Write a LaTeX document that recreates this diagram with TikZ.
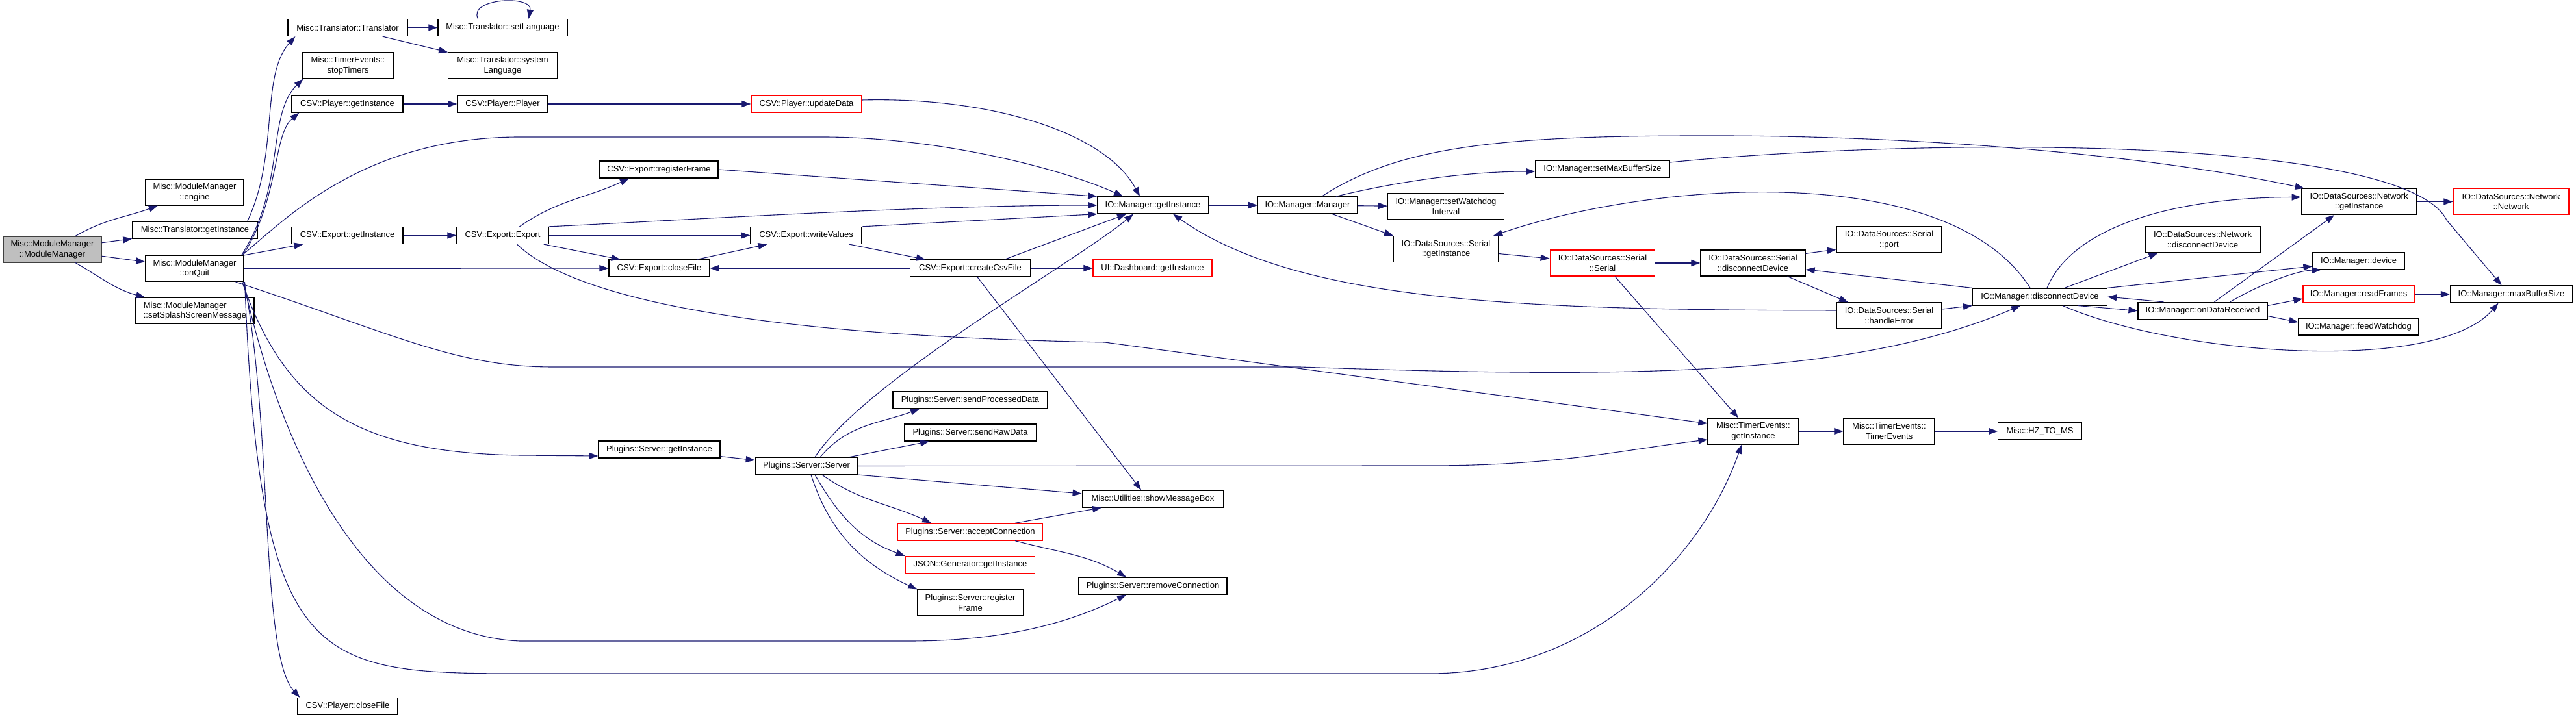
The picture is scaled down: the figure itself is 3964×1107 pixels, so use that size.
\documentclass[tikz,border=0pt]{standalone}
\usepackage{fontspec}
\setmainfont{Liberation Sans}
\usetikzlibrary{arrows.meta}
\definecolor{edgeblue}{HTML}{191970}

\begin{document}
\begin{tikzpicture}[
    x=1pt, y=1pt,
    fnbox/.style={rectangle, draw=black, line width=1.2pt, inner sep=0pt, minimum width=#1, minimum height=26pt, align=center, font=\fontsize{13}{15.5}\selectfont},
    tall/.style={minimum height=40pt},
    trunc/.style={draw=red},
    arrow/.style={-{Triangle[length=14pt, width=10pt]}, draw=edgeblue, line width=1.1pt}
]
\useasboundingbox (0,0) rectangle (3964,1107);

% callers on the left
\node (mm) [fnbox=151pt, tall, fill=black!25, draw=black!75] at (80.5,723) {Misc::ModuleManager\\::ModuleManager};
\node (engine) [fnbox=151pt, tall] at (299.5,811) {Misc::ModuleManager\\::engine};
\node (tgi) [fnbox=192pt] at (300,752.5) {Misc::Translator::getInstance};
\node (oq) [fnbox=151pt, tall] at (299.5,693.5) {Misc::ModuleManager\\::onQuit};
\node (splash) [fnbox=182pt, tall, align=left] at (300,628.5) {Misc::ModuleManager\\::setSplashScreenMessage};

\node (transl) [fnbox=184pt] at (535,1064.5) {Misc::Translator::Translator};
\node (stopTimers) [fnbox=141pt, tall] at (535.5,1006) {Misc::TimerEvents::\\stopTimers};
\node (playerGI) [fnbox=171pt] at (534.5,947) {CSV::Player::getInstance};
\node (exportGI) [fnbox=171pt] at (534.5,744.5) {CSV::Export::getInstance};
\node (playerClose) [fnbox=154pt] at (535,19.5) {CSV::Player::closeFile};

\node (setLang) [fnbox=199pt] at (773.5,1064.5) {Misc::Translator::setLanguage};
\node (sysLang) [fnbox=167.5pt, tall] at (773.5,1006) {Misc::Translator::system\\Language};
\node (player) [fnbox=139pt] at (773.5,947) {CSV::Player::Player};
\node (export) [fnbox=141pt] at (773.5,744.5) {CSV::Export::Export};

\node (exRegFrame) [fnbox=182pt] at (1014,846) {CSV::Export::registerFrame};
\node (exCloseFile) [fnbox=155pt] at (1014.5,694) {CSV::Export::closeFile};
\node (srvGI) [fnbox=187pt] at (1014.5,415) {Plugins::Server::getInstance};

\node (updateData) [fnbox=170pt, trunc] at (1241,947) {CSV::Player::updateData};
\node (writeValues) [fnbox=171pt] at (1240.5,744.5) {CSV::Export::writeValues};
\node (server) [fnbox=157.5pt] at (1241,389.5) {Plugins::Server::Server};

\node (createCsv) [fnbox=184.5pt] at (1493,694) {CSV::Export::createCsvFile};
\node (sendProc) [fnbox=238pt] at (1493,491) {Plugins::Server::sendProcessedData};
\node (sendRaw) [fnbox=203pt] at (1493,441) {Plugins::Server::sendRawData};
\node (accept) [fnbox=223.5pt, trunc] at (1493,288) {Plugins::Server::acceptConnection};
\node (json) [fnbox=199.6pt, trunc] at (1493,237.5) {JSON::Generator::getInstance};
\node (srvReg) [fnbox=162.4pt, tall] at (1493,179) {Plugins::Server::register\\Frame};

\node (ioGI) [fnbox=170.5pt] at (1774,791) {IO::Manager::getInstance};
\node (dashGI) [fnbox=183pt, trunc] at (1773.5,694) {UI::Dashboard::getInstance};
\node (showMsg) [fnbox=217.5pt] at (1774,339) {Misc::Utilities::showMessageBox};
\node (removeConn) [fnbox=228pt] at (1774,205) {Plugins::Server::removeConnection};

\node (ioMgr) [fnbox=152.5pt] at (2012,791) {IO::Manager::Manager};
\node (setWd) [fnbox=179pt, tall] at (2225,789) {IO::Manager::setWatchdog\\Interval};
\node (serialGI) [fnbox=161pt, tall] at (2225,723.5) {IO::DataSources::Serial\\::getInstance};

\node (setMaxBuf) [fnbox=206.5pt] at (2466,847) {IO::Manager::setMaxBufferSize};
\node (serial) [fnbox=161.6pt, tall, trunc] at (2466,702) {IO::DataSources::Serial\\::Serial};

\node (serialDisc) [fnbox=161pt, tall] at (2697.5,702) {IO::DataSources::Serial\\::disconnectDevice};
\node (teGI) [fnbox=140pt, tall] at (2698,443) {Misc::TimerEvents::\\getInstance};

\node (port) [fnbox=161.5pt, tall] at (2907,738) {IO::DataSources::Serial\\::port};
\node (handleErr) [fnbox=161.5pt, tall] at (2907,621) {IO::DataSources::Serial\\::handleError};
\node (teTE) [fnbox=140pt, tall] at (2907,443) {Misc::TimerEvents::\\TimerEvents};

\node (ioDisc) [fnbox=207pt] at (3139,650) {IO::Manager::disconnectDevice};
\node (hz) [fnbox=128.6pt] at (3139,443) {Misc::HZ\_TO\_MS};

\node (netDisc) [fnbox=177pt, tall] at (3389.5,738) {IO::DataSources::Network\\::disconnectDevice};
\node (onData) [fnbox=199pt] at (3389.5,628.5) {IO::Manager::onDataReceived};

\node (netGI) [fnbox=177.6pt, tall] at (3630,796.5) {IO::DataSources::Network\\::getInstance};
\node (device) [fnbox=141pt] at (3629.5,705) {IO::Manager::device};
\node (readFrames) [fnbox=171pt, trunc] at (3629.5,654) {IO::Manager::readFrames};
\node (feedWd) [fnbox=185pt] at (3629.5,604) {IO::Manager::feedWatchdog};

\node (netNet) [fnbox=178pt, tall, trunc] at (3864,796.5) {IO::DataSources::Network\\::Network};
\node (maxBuf) [fnbox=188pt] at (3864.5,654) {IO::Manager::maxBufferSize};

% module manager
\draw[arrow] (mm) to[out=30,in=200] (engine);
\draw[arrow] (mm) -- (tgi);
\draw[arrow] (mm) -- (oq);
\draw[arrow] (mm) to[out=-30,in=165] (splash);

% translator
\draw[arrow] ([xshift=-16pt]tgi.north east) .. controls (430,870) and (400,990) .. ([xshift=12pt]transl.south west);
\draw[arrow] (transl) -- (setLang);
\draw[arrow] ([xshift=-39pt]transl.south east) -- (sysLang.north west);
\draw[arrow] ([xshift=-38pt]setLang.north) .. controls (720,1110) and (820,1115) .. ([xshift=40pt]setLang.north);

% onQuit
\draw[arrow] ([xshift=-4pt]oq.north east) .. controls (440,820) and (410,930) .. ([xshift=2pt]stopTimers.south west);
\draw[arrow] ([xshift=-2pt]oq.north east) .. controls (430,800) and (420,900) .. ([xshift=12pt]playerGI.south west);
\draw[arrow] ([xshift=-3pt]oq.north east) .. controls (440,770) and (560,896) .. (800,896) -- (1265,896)
    .. controls (1450,896) and (1640,845) .. ([xshift=-46pt]ioGI.north);
\draw[arrow] (oq.north east) -- ([xshift=18pt]exportGI.south west);
\draw[arrow] (oq) -- (exCloseFile);
\draw[arrow] ([xshift=-13pt]oq.south east) .. controls (600,595) and (700,542) .. (850,542) -- (2000,542)
    .. controls (2500,525) and (2850,525) .. ([xshift=-30pt]ioDisc.south);
\draw[arrow] ([xshift=-3pt]oq.south east) .. controls (440,480) and (550,410) .. (800,406) -- ([yshift=-10pt]srvGI.west);
\draw[arrow] ([xshift=-1pt]oq.south east) .. controls (430,420) and (560,130) .. (800,120) -- (1400,120)
    .. controls (1550,120) and (1650,150) .. ([xshift=-41pt]removeConn.south);
\draw[arrow] ([xshift=1pt]oq.south east) .. controls (400,80) and (480,70) .. (800,70) -- (2200,70)
    .. controls (2450,70) and (2620,250) .. ([xshift=-18pt]teGI.south);
\draw[arrow] (oq.south east) .. controls (420,450) and (400,100) .. ([xshift=4pt]playerClose.north west);

% csv
\draw[arrow] (playerGI) -- (player);
\draw[arrow] (player) -- (updateData);
\draw[arrow] ([yshift=6pt]updateData.east) .. controls (1520,958) and (1700,905) .. ([xshift=-20pt]ioGI.north);
\draw[arrow] (exportGI) -- (export);
\draw[arrow] ([xshift=26pt]export.north) to[out=35,in=205] ([xshift=-46pt]exRegFrame.south);
\draw[arrow] (export) -- (writeValues);
\draw[arrow] ([xshift=-8pt]export.south east) -- ([xshift=-60pt]exCloseFile.north);
\draw[arrow] (export.north east) .. controls (1000,765) and (1400,791) .. (ioGI.west);
\draw[arrow] ([xshift=22pt]export.south) .. controls (880,650) and (1150,590) .. (1700,580) -- ([yshift=12pt]teGI.west);
\draw[arrow] (exRegFrame.east) -- (ioGI.north west);
\draw[arrow] ([xshift=58pt]exCloseFile.north) -- ([xshift=-60pt]writeValues.south);
\draw[arrow] (writeValues.north east) -- (ioGI.south west);
\draw[arrow] ([xshift=-20pt]writeValues.south east) -- ([xshift=-69pt]createCsv.north);
\draw[arrow] (createCsv) -- (exCloseFile);
\draw[arrow] (createCsv) -- (dashGI);
\draw[arrow] ([xshift=-40pt]createCsv.north east) -- ([xshift=-41pt]ioGI.south);
\draw[arrow] ([xshift=11pt]createCsv.south) -- ([xshift=-18pt]showMsg.north);

% plugins
\draw[arrow] (srvGI) -- (server);
\draw[arrow] ([xshift=21pt]server.north) to[out=50,in=200] ([xshift=-78pt]sendProc.south);
\draw[arrow] ([xshift=65pt]server.north) -- ([xshift=-63pt]sendRaw.south);
\draw[arrow] ([xshift=24pt]server.south) to[out=-35,in=155] ([xshift=-60pt]accept.north);
\draw[arrow] ([xshift=13pt]server.south) to[out=-60,in=160] (json.north west);
\draw[arrow] ([xshift=7pt]server.south) to[out=-72,in=155] (srvReg.north west);
\draw[arrow] (server.south east) -- ([yshift=8pt]showMsg.west);
\draw[arrow] (server.east) -- (2200,390) .. controls (2400,390) and (2500,415) .. ([yshift=-13pt]teGI.west);
\draw[arrow] ([xshift=13pt]server.north) .. controls (1330,520) and (1650,700) .. ([xshift=-30pt]ioGI.south);
\draw[arrow] ([xshift=69pt]accept.north) -- ([xshift=-79pt]showMsg.south);
\draw[arrow] ([xshift=69pt]accept.south) to[out=-15,in=150] ([xshift=-41pt]removeConn.north);

% io manager
\draw[arrow] (ioGI) -- (ioMgr);
\draw[arrow] (ioMgr) -- (setWd);
\draw[arrow] (ioMgr) -- (serialGI.north west);
\draw[arrow] ([xshift=-33pt]ioMgr.north east) .. controls (2140,825) and (2250,843) .. ([yshift=-4pt]setMaxBuf.west);
\draw[arrow] ([xshift=22pt]ioMgr.north) .. controls (2150,880) and (2300,897) .. (2600,898)
    .. controls (3000,900) and (3350,860) .. ([xshift=5pt]netGI.north west);
\draw[arrow] ([yshift=10pt]setMaxBuf.east) .. controls (2950,895) and (3700,900) .. (3765,768) -- ([xshift=-15pt]maxBuf.north);
\draw[arrow] ([yshift=-7pt]serialGI.east) -- ([yshift=7pt]serial.west);
\draw[arrow] (serial) -- (serialDisc);
\draw[arrow] ([xshift=19pt]serial.south) -- ([xshift=-23pt]teGI.north);
\draw[arrow] ([yshift=-6pt]serialDisc.north east) -- ([yshift=-15pt]port.west);
\draw[arrow] ([xshift=53pt]serialDisc.south) -- ([xshift=-63pt]handleErr.north);
\draw[arrow] ([yshift=10pt]handleErr.east) -- (ioDisc.south west);
\draw[arrow] ([yshift=8pt]handleErr.west) .. controls (2350,630) and (2000,640) .. ([xshift=31pt]ioGI.south);
\draw[arrow] (teGI) -- (teTE);
\draw[arrow] (teTE) -- (hz);

% disconnect / data received
\draw[arrow] (ioDisc.north west) -- ([yshift=-10pt]serialDisc.east);
\draw[arrow] ([xshift=-15pt]ioDisc.north) .. controls (3000,860) and (2550,830) .. ([xshift=-8pt]serialGI.north east);
\draw[arrow] ([xshift=11pt]ioDisc.north) .. controls (3190,760) and (3350,803) .. ([yshift=7pt]netGI.west);
\draw[arrow] ([xshift=38pt]ioDisc.north) -- ([xshift=-69pt]netDisc.south);
\draw[arrow] (ioDisc.north east) -- ([yshift=-8pt]device.west);
\draw[arrow] ([xshift=59pt]ioDisc.south) -- (onData.west);
\draw[arrow] ([xshift=35pt]ioDisc.south) .. controls (3350,560) and (3750,530) .. ([xshift=-20pt]maxBuf.south);
\draw[arrow] ([xshift=-60pt]onData.north) -- (ioDisc.east);
\draw[arrow] ([xshift=18pt]onData.north) -- ([xshift=-38pt]netGI.south);
\draw[arrow] ([xshift=42pt]onData.north) .. controls (3470,665) and (3530,690) .. ([xshift=-58pt]device.south);
\draw[arrow] ([yshift=8pt]onData.east) -- ([yshift=-7pt]readFrames.west);
\draw[arrow] ([yshift=-8pt]onData.east) -- ([yshift=7pt]feedWd.west);
\draw[arrow] (readFrames) -- (maxBuf);
\draw[arrow] (netGI) -- (netNet);
\end{tikzpicture}
\end{document}
